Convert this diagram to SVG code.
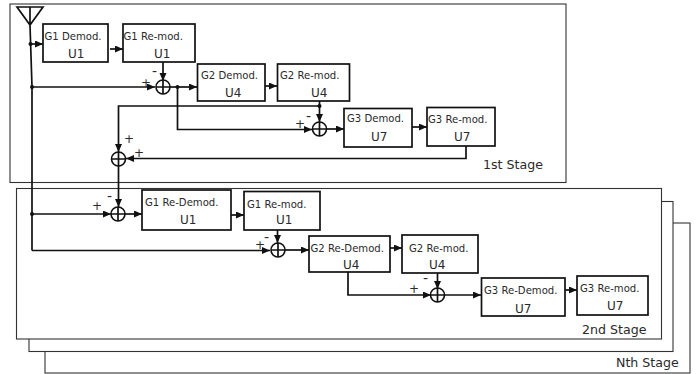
<svg xmlns="http://www.w3.org/2000/svg" width="700" height="374" viewBox="0 0 700 374">
<style>
text{font-family:"DejaVu Sans",sans-serif;fill:#2a2a2a}
.l{font-size:10.100px}
.u{font-size:12px}
.s{font-size:12.600px}
.p{font-size:12px}
.m{font-size:14px}
.b{fill:#fff;stroke:#111;stroke-width:1.700}
.st{fill:#fff;stroke:#333;stroke-width:1.100}
.c{fill:none;stroke:#111;stroke-width:1.700}
.a{marker-end:url(#ah)}
.j{fill:#111}
.sum{fill:#fff;stroke:#111;stroke-width:1.600}
</style>
<defs>
<marker id="ah" markerUnits="userSpaceOnUse" markerWidth="9" markerHeight="8" refX="8" refY="3.500" orient="auto"><path d="M0 0L8 3.500L0 7z" fill="#111"/></marker>
<g id="sm"><circle class="sum" r="7"/><path class="c" d="M-7 0H7M0-7V7"/></g>
</defs>
<g id="stage-n"><rect class="st" x="45" y="223" width="645" height="150"/><text class="s" x="616" y="367">Nth Stage</text></g>
<g id="stage-3"><rect class="st" x="29" y="201.500" width="644" height="150"/></g>
<g id="stage-2"><rect class="st" x="16.500" y="188.500" width="645" height="150.500"/><text class="s" x="582" y="334">2nd Stage</text></g>
<g id="stage-1"><rect class="st" x="10" y="4" width="556" height="178.500"/><text class="s" x="483" y="169">1st Stage</text></g>
<g id="connectors">
<path class="c" d="M17 7H43L30 25ZM30 7V25L32 87V250.500"/>
<path class="c a" d="M30.500 44H43"/>
<path class="c a" d="M32 87H155"/>
<path class="c a" d="M110 49H123"/>
<path class="c a" d="M163 62V81"/>
<path class="c a" d="M170 87H197"/>
<path class="c a" d="M265 86H277"/>
<path class="c a" d="M177.500 87V129.500H312"/>
<path class="c a" d="M319.500 101V122"/>
<path class="c a" d="M319.500 106H118.500V152"/>
<path class="c a" d="M326 129H344"/>
<path class="c a" d="M412 127H427"/>
<path class="c a" d="M466 146V158.500H126"/>
<path class="c a" d="M118.500 166V207"/>
<path class="c a" d="M32 214H111"/>
<path class="c a" d="M125 214H142"/>
<path class="c a" d="M231 215H244"/>
<path class="c a" d="M277.500 230V243"/>
<path class="c a" d="M32 250.500H270"/>
<path class="c a" d="M285 250H309"/>
<path class="c a" d="M390 248H402"/>
<path class="c a" d="M348 272V295H431"/>
<path class="c a" d="M437.500 273V289"/>
<path class="c a" d="M444 295H481"/>
<path class="c a" d="M565 290H577"/>
<circle class="j" cx="30.500" cy="44" r="2"/><circle class="j" cx="32" cy="87" r="2"/><circle class="j" cx="177.500" cy="87" r="2"/><circle class="j" cx="319.500" cy="106" r="2"/><circle class="j" cx="32" cy="214" r="2"/>
</g>
<g id="sum-1"><use href="#sm" x="163" y="87"/><text class="p" x="141" y="87">+</text><text class="m" x="152" y="76">-</text></g>
<g id="sum-2"><use href="#sm" x="319.500" y="129"/><text class="p" x="295" y="128">+</text><text class="m" x="306" y="121">-</text></g>
<g id="sum-3"><use href="#sm" x="118.500" y="159"/><text class="p" x="124" y="143">+</text><text class="p" x="134" y="157">+</text></g>
<g id="sum-4"><use href="#sm" x="118" y="214"/><text class="p" x="92" y="210">+</text><text class="m" x="107" y="201">-</text></g>
<g id="sum-5"><use href="#sm" x="278" y="250"/><text class="p" x="255" y="249">+</text><text class="m" x="264" y="242">-</text></g>
<g id="sum-6"><use href="#sm" x="437.500" y="295"/><text class="p" x="409" y="293">+</text><text class="m" x="423" y="283">-</text></g>
<g id="g1-demod"><rect class="b" x="43" y="24" width="65" height="38"/><text class="l" x="44.500" y="40">G1 Demod.</text><text class="u" x="68" y="58">U1</text></g>
<g id="g1-remod"><rect class="b" x="123" y="24" width="72" height="38"/><text class="l" x="123.500" y="40">G1 Re-mod.</text><text class="u" x="154" y="58">U1</text></g>
<g id="g2-demod"><rect class="b" x="197.500" y="64" width="67.500" height="37"/><text class="l" x="201" y="79">G2 Demod.</text><text class="u" x="225" y="97">U4</text></g>
<g id="g2-remod"><rect class="b" x="277.500" y="64" width="72" height="37"/><text class="l" x="280" y="79">G2 Re-mod.</text><text class="u" x="311" y="97">U4</text></g>
<g id="g3-demod"><rect class="b" x="344" y="108.500" width="68" height="38.500"/><text class="l" x="347" y="122">G3 Demod.</text><text class="u" x="371" y="141">U7</text></g>
<g id="g3-remod"><rect class="b" x="427" y="107.500" width="68" height="38.500"/><text class="l" x="428" y="123">G3 Re-mod.</text><text class="u" x="454" y="141">U7</text></g>
<g id="g1-redemod"><rect class="b" x="142" y="190" width="89" height="40"/><text class="l" x="145" y="206">G1 Re-Demod.</text><text class="u" x="180" y="224">U1</text></g>
<g id="g1-remod-2"><rect class="b" x="244" y="191.500" width="76" height="38.500"/><text class="l" x="247" y="208">G1 Re-mod.</text><text class="u" x="276" y="224">U1</text></g>
<g id="g2-redemod"><rect class="b" x="309" y="236" width="81" height="36"/><text class="l" x="310.500" y="252">G2 Re-Demod.</text><text class="u" x="343" y="269">U4</text></g>
<g id="g2-remod-2"><rect class="b" x="402" y="235" width="76" height="38"/><text class="l" x="409" y="252">G2 Re-mod.</text><text class="u" x="429" y="269">U4</text></g>
<g id="g3-redemod"><rect class="b" x="481.500" y="278" width="83.500" height="38"/><text class="l" x="484" y="294">G3 Re-Demod.</text><text class="u" x="515" y="313">U7</text></g>
<g id="g3-remod-2"><rect class="b" x="577" y="276" width="71" height="39"/><text class="l" x="580" y="292">G3 Re-mod.</text><text class="u" x="607" y="310">U7</text></g>
</svg>
